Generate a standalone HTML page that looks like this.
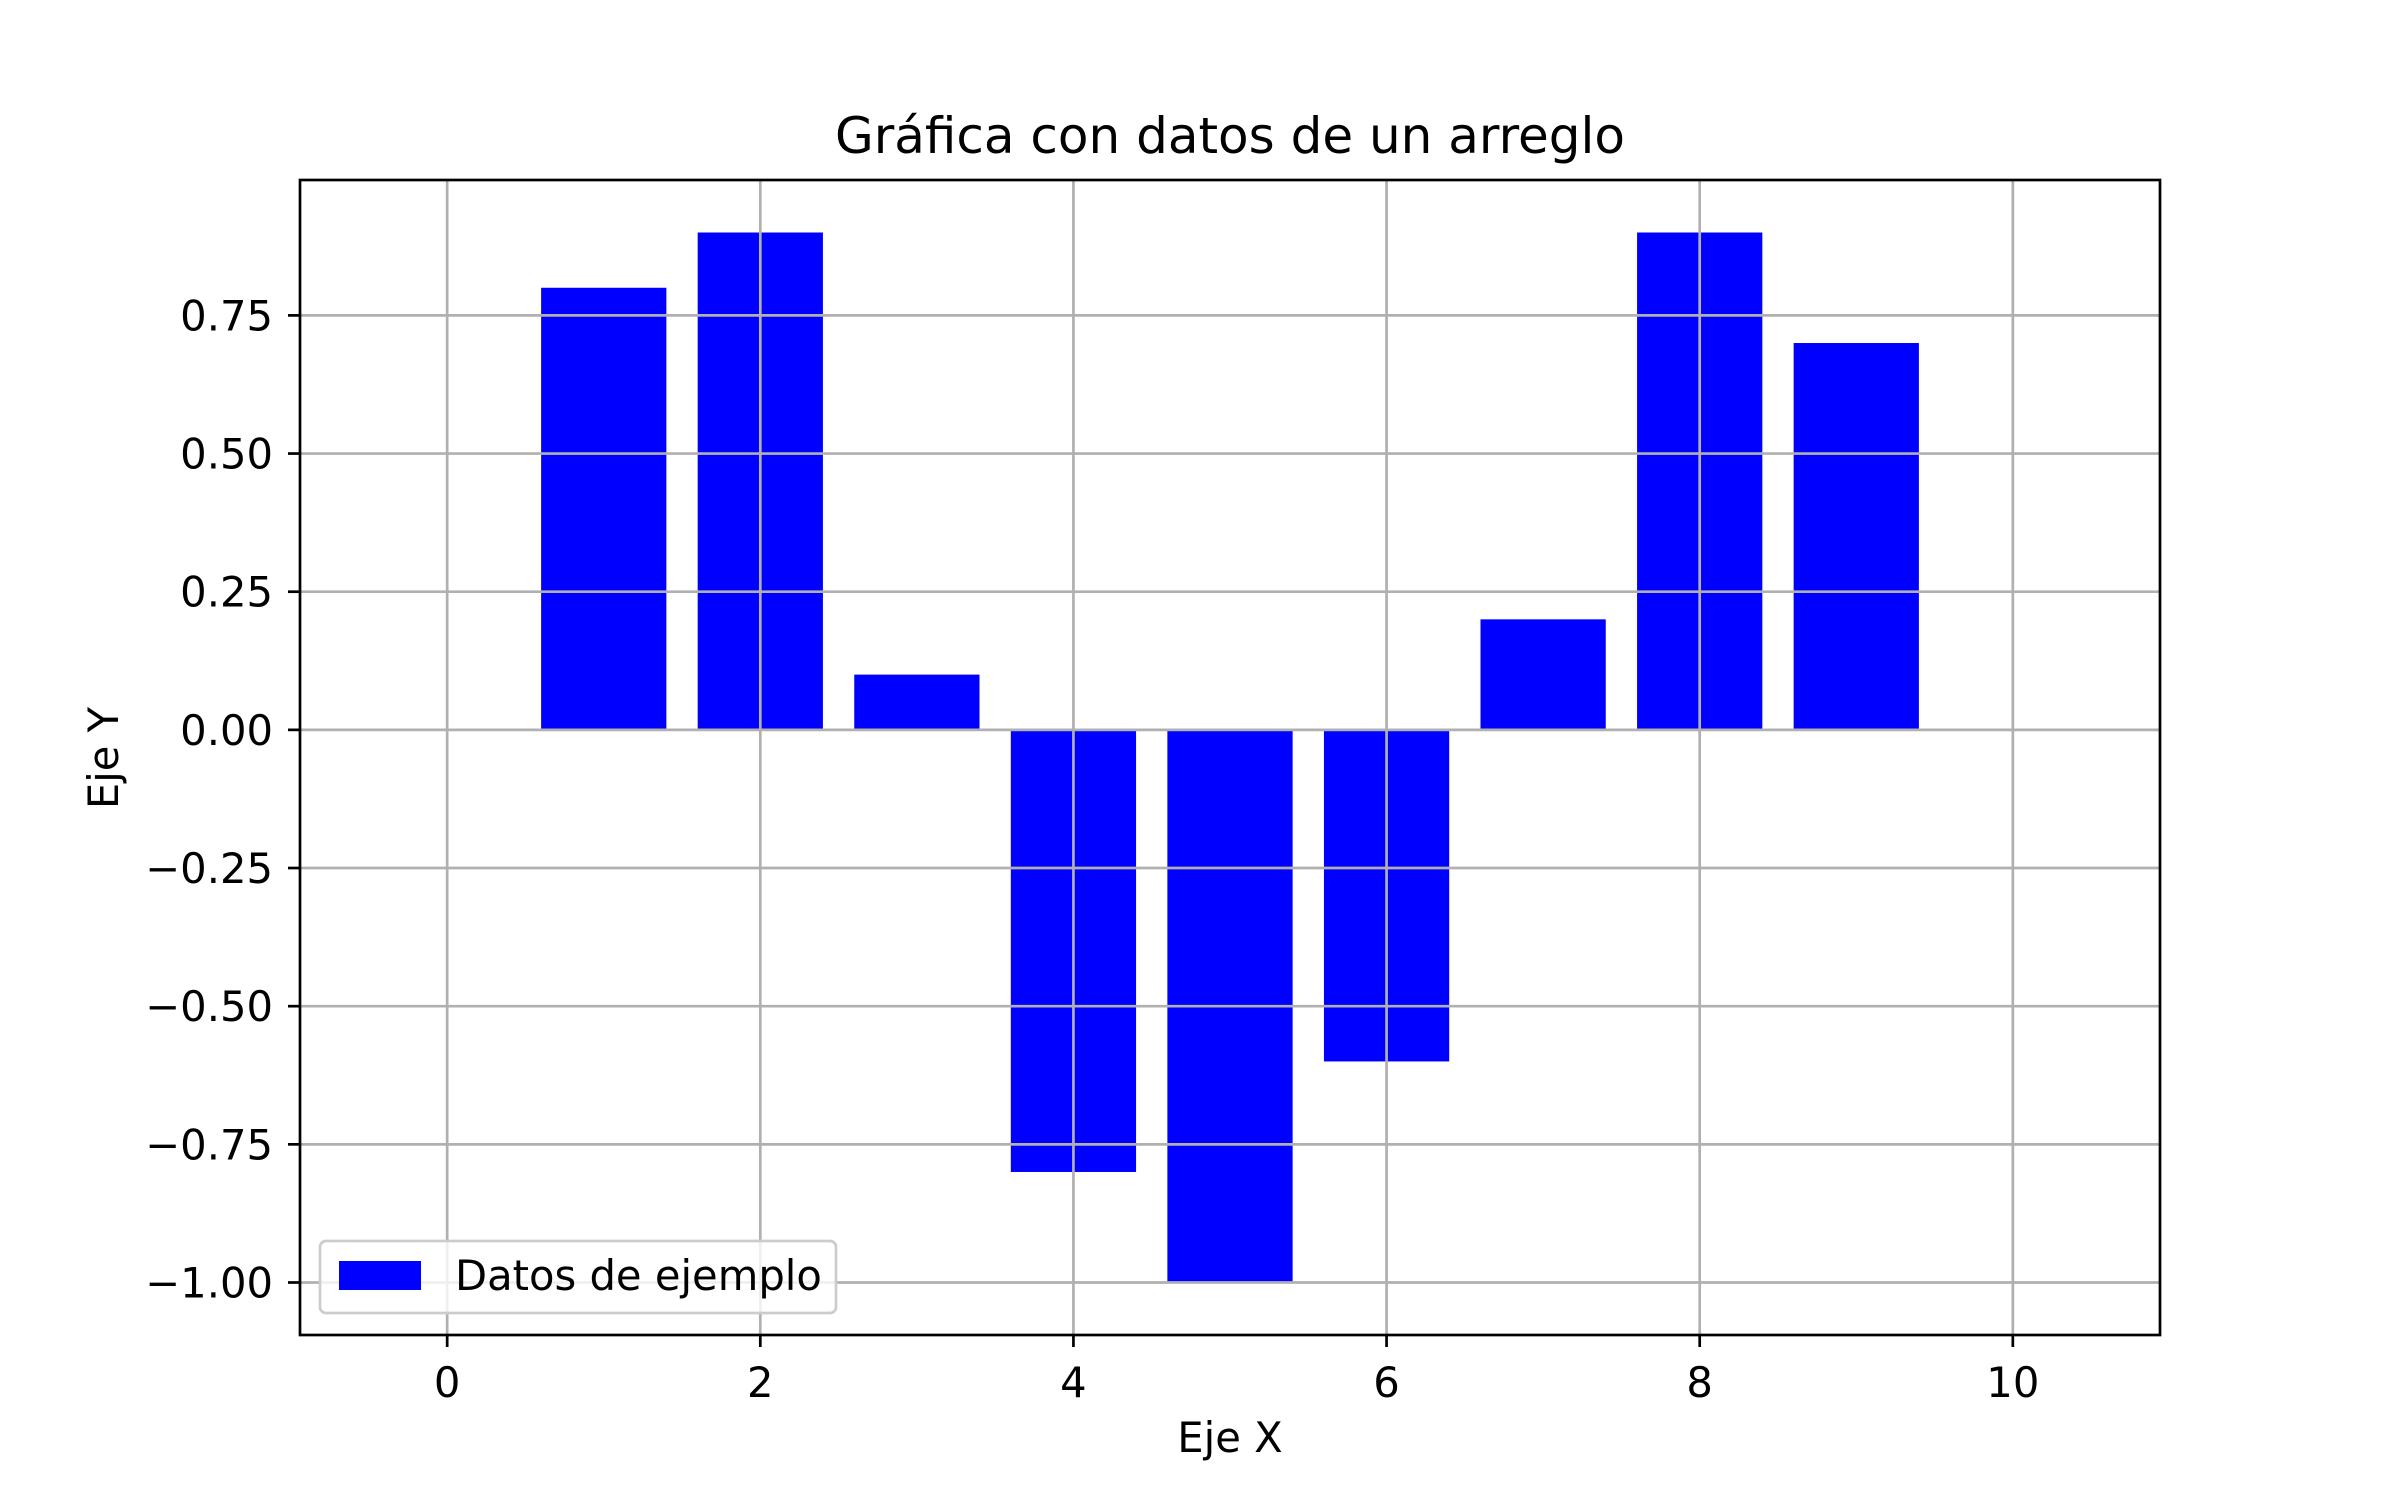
<!DOCTYPE html>
<html><head><meta charset="utf-8"><style>
html,body{margin:0;padding:0;background:#fff;}
svg{display:block;font-family:"DejaVu Sans","Liberation Sans",sans-serif;}
</style></head>
<body>
<svg id="chart" width="2400" height="1500" viewBox="0 0 2400 1500">
<rect width="2400" height="1500" fill="#fff"/>
<g id="bars"></g>
<g id="grid"></g>
<g id="ticks"></g>
<rect x="300" y="180" width="1860" height="1155" fill="none" stroke="#000" stroke-width="2.7"/>
<text x="1230" y="153" font-size="50" text-anchor="middle">Gráfica con datos de un arreglo</text>
<text x="1230" y="1452" font-size="41.7" text-anchor="middle">Eje X</text>
<text transform="translate(118,758) rotate(-90)" font-size="41.7" text-anchor="middle">Eje Y</text>
<g>
<rect x="320" y="1241" width="516" height="72" rx="6" fill="#fff" fill-opacity="0.8" stroke="#ccc" stroke-width="2.7"/>
<rect x="339" y="1261" width="82" height="29" fill="#0000ff"/>
<text x="455" y="1290" font-size="41.7">Datos de ejemplo</text>
</g>
</svg>
<script>
const categories = [0,1,2,3,4,5,6,7,8,9,10];
const values = [0,0.8,0.9,0.1,-0.8,-1,-0.6,0.2,0.9,0.7,0];
const xTicks = [0,2,4,6,8,10];
const yTicks = [-1,-0.75,-0.5,-0.25,0,0.25,0.5,0.75];
const yTickLabels = ["\u22121.00","\u22120.75","\u22120.50","\u22120.25","0.00","0.25","0.50","0.75"];

const L=300,R=2160,T=180,B=1335;
const xMin=-0.94,xMax=10.94,yMin=-1.095,yMax=0.995;
const xs=v=>L+(v-xMin)/(xMax-xMin)*(R-L);
const ys=v=>B-(v-yMin)/(yMax-yMin)*(B-T);
const NS="http://www.w3.org/2000/svg";
const grid=document.getElementById('grid'),bars=document.getElementById('bars'),ticks=document.getElementById('ticks');
function mk(tag,attrs,parent){const e=document.createElementNS(NS,tag);for(const k in attrs)e.setAttribute(k,attrs[k]);parent.appendChild(e);return e;}

xTicks.forEach(t=>{
  const x=xs(t);
  const g=mk('line',{x1:x,x2:x,y1:T,y2:B,stroke:'#b0b0b0','stroke-width':2.7},grid);
  
  
  const tk=mk('line',{x1:x,x2:x,y1:B,y2:B+12,stroke:'#000','stroke-width':2.7},ticks);
  
  
  const lb=mk('text',{x:x,y:B+62,'font-size':41.7,'text-anchor':'middle'},ticks);
  lb.textContent=String(t);
  
  
});
yTicks.forEach((t,i)=>{
  const y=ys(t);
  const g=mk('line',{x1:L,x2:R,y1:y,y2:y,stroke:'#b0b0b0','stroke-width':2.7},grid);
  
  
  const tk=mk('line',{x1:L-12,x2:L,y1:y,y2:y,stroke:'#000','stroke-width':2.7},ticks);
  
  
  const lb=mk('text',{x:L-27,y:y+15,'font-size':41.7,'text-anchor':'end'},ticks);
  lb.textContent=yTickLabels[i];
  
  
});
categories.forEach((c,i)=>{
  const v=values[i];
  const x0=xs(c-0.4),x1=xs(c+0.4);
  const y0=ys(Math.max(v,0)),y1=ys(Math.min(v,0));
  const r=mk('rect',{x:x0,y:y0,width:x1-x0,height:Math.max(0,y1-y0),fill:'#0000ff'},bars);
  
  
});
</script>
</body></html>
